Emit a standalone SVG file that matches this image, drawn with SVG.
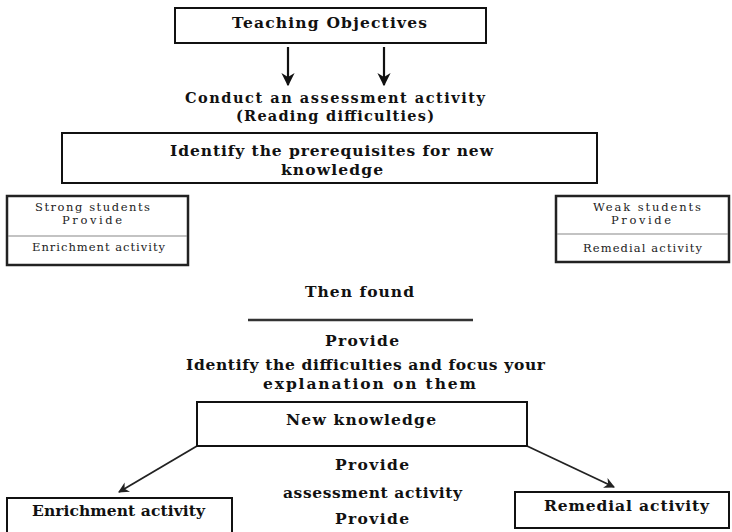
<svg xmlns="http://www.w3.org/2000/svg" width="732" height="532" viewBox="0 0 732 532">
<style>
.b{font-family:"DejaVu Serif","Liberation Serif",serif;font-weight:bold;font-size:15.5px;fill:#111}
.b2{font-size:14.5px}
.r{font-family:"DejaVu Serif","Liberation Serif",serif;font-size:11.5px;fill:#222}
.box{fill:#fff;stroke:#111;stroke-width:2}
.sbox{fill:#fff;stroke:#222;stroke-width:2.5}
.div{stroke:#888;stroke-width:1.2}
.ar{stroke:#111;stroke-width:2.2;fill:none}
.ad{stroke:#222;stroke-width:1.8;fill:none}
</style>
<defs>
<marker id="ah" viewBox="0 0 10 10" refX="9" refY="5" markerWidth="6" markerHeight="6" orient="auto" markerUnits="strokeWidth">
<path d="M0,0 L10,5 L0,10 L3,5 Z" fill="#111"/>
</marker>
<marker id="ah2" viewBox="0 0 10 10" refX="9" refY="5" markerWidth="6" markerHeight="6" orient="auto" markerUnits="strokeWidth">
<path d="M0,0 L10,5 L0,10 L3,5 Z" fill="#222"/>
</marker>
</defs>
<rect width="732" height="532" fill="#fff"/>

<g id="connectors">
<line class="ar" x1="288" y1="47" x2="288" y2="85" marker-end="url(#ah)"/>
<line class="ar" x1="384" y1="47" x2="384" y2="85" marker-end="url(#ah)"/>
<line x1="248" y1="320" x2="473" y2="320" stroke="#333" stroke-width="2.5"/>
<line class="ad" x1="197" y1="446" x2="119" y2="492" marker-end="url(#ah2)"/>
<line class="ad" x1="527" y1="446" x2="614" y2="487" marker-end="url(#ah2)"/>
</g>

<g id="teaching-objectives">
<rect class="box" x="175" y="8" width="311" height="35"/>
<text class="b" x="232" y="28" textLength="195">Teaching Objectives</text>
</g>

<g id="assessment-text">
<text class="b b2" x="185" y="103" textLength="300">Conduct an assessment activity</text>
<text class="b b2" x="236" y="121" textLength="198">(Reading difficulties)</text>
</g>

<g id="prerequisites">
<rect class="box" x="62" y="133" width="535" height="50"/>
<text class="b" x="170" y="156" textLength="323">Identify the prerequisites for new</text>
<text class="b" x="281" y="175" textLength="102">knowledge</text>
</g>

<g id="strong-students">
<rect class="sbox" x="7" y="196" width="181" height="69"/>
<line class="div" x1="8" y1="236" x2="187" y2="236"/>
<text class="r" x="35" y="211" textLength="115">Strong students</text>
<text class="r" x="62" y="224" textLength="60">Provide</text>
<text class="r" x="32" y="251" textLength="133">Enrichment activity</text>
</g>

<g id="weak-students">
<rect class="sbox" x="556" y="196" width="173" height="66"/>
<line class="div" x1="557" y1="234" x2="728" y2="234"/>
<text class="r" x="593" y="211" textLength="108">Weak students</text>
<text class="r" x="611" y="224" textLength="60">Provide</text>
<text class="r" x="583" y="252" textLength="119">Remedial activity</text>
</g>

<g id="then-found">
<text class="b" x="305" y="297" textLength="109">Then found</text>
<text class="b" x="325" y="346" textLength="74">Provide</text>
<text class="b" x="186" y="370" textLength="359">Identify the difficulties and focus your</text>
<text class="b" x="263" y="389" textLength="213">explanation on them</text>
</g>

<g id="new-knowledge">
<rect class="box" x="197" y="402" width="330" height="44"/>
<text class="b" x="286" y="425" textLength="150">New knowledge</text>
</g>

<g id="middle-labels">
<text class="b" x="335" y="470" textLength="74">Provide</text>
<text class="b" x="283" y="498" textLength="179">assessment activity</text>
<text class="b" x="335" y="524" textLength="74">Provide</text>
</g>

<g id="enrichment-activity">
<rect class="box" x="7" y="498" width="225" height="44"/>
<text class="b" x="32" y="516" textLength="173">Enrichment activity</text>
</g>

<g id="remedial-activity">
<rect class="box" x="515" y="492" width="214" height="36"/>
<text class="b" x="544" y="511" textLength="165">Remedial activity</text>
</g>
</svg>
